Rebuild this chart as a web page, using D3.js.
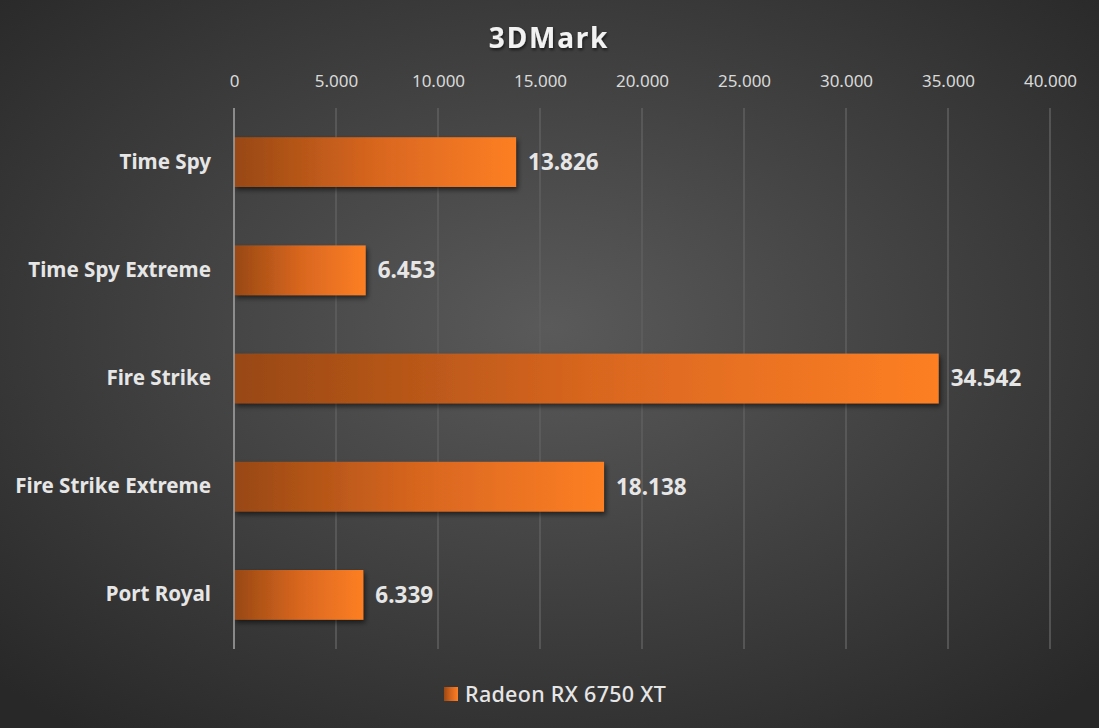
<!DOCTYPE html>
<html>
<head>
<meta charset="utf-8">
<script src="https://cdn.jsdelivr.net/npm/d3@7"></script>
<style>
  html, body { margin: 0; padding: 0; background: #333; }
  svg { display: block; }
</style>
</head>
<body>
<div id="chart"></div>
<script>
// 3DMark scores, horizontal bars
const categories = ["Time Spy", "Time Spy Extreme", "Fire Strike", "Fire Strike Extreme", "Port Royal"];
const scores = [13826, 6453, 34542, 18138, 6339];
const seriesName = "Radeon RX 6750 XT";
const tickValues = [0, 5000, 10000, 15000, 20000, 25000, 30000, 35000, 40000];

const width = 1099, height = 728;
const margin = {top: 108, bottom: 79, left: 234, right: 49};
const font = "'Noto Sans', sans-serif";

const data = categories.map((c, i) => ({name: c, value: scores[i]}));
const fmt = d3.format(",");
const dotFmt = v => fmt(v).replace(/,/g, ".");

const svg = d3.select("#chart")
    .append("svg")
    .attr("width", width)
    .attr("height", height);

const defs = svg.append("defs");

// background
const bg = defs.append("radialGradient")
    .attr("id", "bg")
    .attr("cx", "50%").attr("cy", "45%").attr("r", "70%");
bg.append("stop").attr("offset", "0%").attr("stop-color", "#5a5a5a");
bg.append("stop").attr("offset", "100%").attr("stop-color", "#282828");

// bar fill
const barGrad = defs.append("linearGradient")
    .attr("id", "barGrad")
    .attr("x1", "0%").attr("x2", "100%").attr("y1", "0%").attr("y2", "0%");
barGrad.append("stop").attr("offset", "0%").attr("stop-color", "#984813");
barGrad.append("stop").attr("offset", "50%").attr("stop-color", "#d8661f");
barGrad.append("stop").attr("offset", "100%").attr("stop-color", "#fd7f24");

const shadow = defs.append("filter")
    .attr("id", "shadow")
    .attr("x", "-5%").attr("y", "-20%").attr("width", "115%").attr("height", "160%");
shadow.append("feDropShadow")
    .attr("dx", 2).attr("dy", 3).attr("stdDeviation", 2.5)
    .attr("flood-color", "#000").attr("flood-opacity", 0.55);

const titleShadow = defs.append("filter").attr("id", "tshadow");
titleShadow.append("feDropShadow")
    .attr("dx", 1).attr("dy", 2).attr("stdDeviation", 1.5)
    .attr("flood-color", "#000").attr("flood-opacity", 0.6);

svg.append("rect")
    .attr("width", width)
    .attr("height", height)
    .attr("fill", "url(#bg)");

// scales
const x = d3.scaleLinear()
    .domain([0, 40000])
    .range([margin.left, width - margin.right]);

const y = d3.scaleBand()
    .domain(categories)
    .range([margin.top, height - margin.bottom])
    .paddingInner(0.54)
    .paddingOuter(0.27);

// gridlines
svg.append("g")
    .selectAll("line")
    .data(tickValues.slice(1))
    .enter()
    .append("line")
    .attr("x1", d => x(d))
    .attr("x2", d => x(d))
    .attr("y1", margin.top)
    .attr("y2", height - margin.bottom)
    .attr("stroke", "#5f5f5f")
    .attr("stroke-width", 1.5);

// top axis labels
const xAxis = svg.append("g")
    .attr("transform", `translate(0,${margin.top - 18})`)
    .call(d3.axisTop(x).tickValues(tickValues).tickFormat(dotFmt).tickSize(0));
xAxis.select(".domain").remove();
xAxis.selectAll("text")
    .attr("fill", "#d9d9d9")
    .style("font-family", font)
    .style("font-size", "17px");

// bars
svg.append("g")
    .selectAll("rect")
    .data(data)
    .enter()
    .append("rect")
    .attr("x", x(0))
    .attr("y", d => y(d.name))
    .attr("width", d => x(d.value) - x(0))
    .attr("height", y.bandwidth())
    .attr("fill", "url(#barGrad)")
    .attr("filter", "url(#shadow)");

// value axis line at 0
svg.append("line")
    .attr("x1", x(0)).attr("x2", x(0))
    .attr("y1", margin.top).attr("y2", height - margin.bottom)
    .attr("stroke", "#a6a6a6")
    .attr("stroke-width", 1.5);

// category labels
const yAxis = svg.append("g")
    .attr("transform", `translate(${margin.left - 23},0)`)
    .call(d3.axisLeft(y).tickSize(0).tickPadding(0));
yAxis.select(".domain").remove();
yAxis.selectAll("text")
    .attr("fill", "#e6e6e6")
    .style("font-family", font)
    .style("font-size", "20.6px")
    .style("font-weight", "bold");

// value labels
svg.append("g")
    .selectAll("text")
    .data(data)
    .enter()
    .append("text")
    .attr("x", d => x(d.value) + 12)
    .attr("y", d => y(d.name) + y.bandwidth() / 2)
    .attr("dy", "0.35em")
    .attr("fill", "#e6e6e6")
    .style("font-family", font)
    .style("font-size", "22.5px")
    .style("font-weight", "bold")
    .text(d => dotFmt(d.value));

// title
svg.append("text")
    .attr("x", 549)
    .attr("y", 48)
    .attr("text-anchor", "middle")
    .attr("fill", "#f2f2f2")
    .attr("filter", "url(#tshadow)")
    .style("font-family", font)
    .style("font-size", "28px")
    .style("font-weight", "bold")
    .style("letter-spacing", "1.8px")
    .text("3DMark");

// legend
const legend = svg.append("g")
    .attr("transform", `translate(444,687)`);
legend.append("rect")
    .attr("width", 14)
    .attr("height", 14)
    .attr("fill", "url(#barGrad)");
legend.append("text")
    .attr("x", 21)
    .attr("y", 7)
    .attr("dy", "0.35em")
    .attr("fill", "#e6e6e6")
    .style("font-family", font)
    .style("font-size", "21.5px")
    .style("font-weight", 500)
    .style("letter-spacing", "0.3px")
    .text(seriesName);
</script>
</body>
</html>
